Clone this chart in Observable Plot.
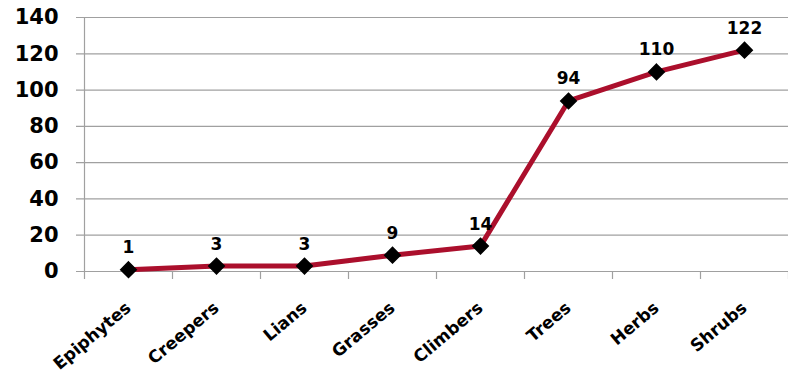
<!DOCTYPE html>
<html><head><meta charset="utf-8">
<script src="https://cdn.jsdelivr.net/npm/d3@7"></script>
<script src="https://cdn.jsdelivr.net/npm/@observablehq/plot@0.6"></script>
<style>body{margin:0;background:#fff}</style>
</head><body><div id="chart"></div>
<script>
const categories = ["Epiphytes","Creepers","Lians","Grasses","Climbers","Trees","Herbs","Shrubs"];
const values = [1,3,3,9,14,94,110,122];
const yTicks = [0,20,40,60,80,100,120,140];

const data = categories.map((c,i)=>({i, cat:c, v:values[i]}));
const idx = categories.map((c,i)=>i);
const edges = categories.map((c,i)=>i-0.5).concat([categories.length-0.5]);

const chart = Plot.plot({
  width: 788, height: 374,
  marginLeft: 84, marginRight: 0, marginTop: 17, marginBottom: 103,
  style: {fontFamily: "DejaVu Sans", background: "#fff", overflow: "visible"},
  x: {type: "linear", domain: [-0.5, categories.length-0.5], label: null},
  y: {domain: [0,140], label: null},
  marks: [
    Plot.gridY(yTicks, {stroke: "#a0a0a0", strokeOpacity: 1, strokeWidth: 1.2, x1: -0.5 - 8/88, x2: categories.length-0.5}),
    Plot.ruleX([-0.5], {stroke: "#a0a0a0", strokeWidth: 1.2}),
    Plot.axisY(yTicks, {tickSize: 0, tickPadding: 26, fontSize: 21, fontWeight: "bold", fill: "#000", label: null}),
    Plot.axisX(edges, {tickSize: 8, stroke: "#a0a0a0", tickFormat: () => "", strokeWidth: 1.2, label: null}),
    Plot.axisX(idx, {tickSize: 0, tickRotate: -40, tickPadding: 34, tickFormat: i => categories[i], fontSize: 17, fontWeight: "bold", fill: "#000", textAnchor: "end", label: null}),
    Plot.line(data, {x: "i", y: "v", stroke: "#ab0f2c", strokeWidth: 5}),
    Plot.dot(data, {x: "i", y: "v", symbol: "diamond2", r: 7, fill: "#000", stroke: "#000"}),
    Plot.text(data, {x: "i", y: "v", text: d => String(d.v), dy: -22, fontSize: 17, fontWeight: "bold", fill: "#000"})
  ]
});
document.getElementById("chart").appendChild(chart);
</script>
</body></html>
